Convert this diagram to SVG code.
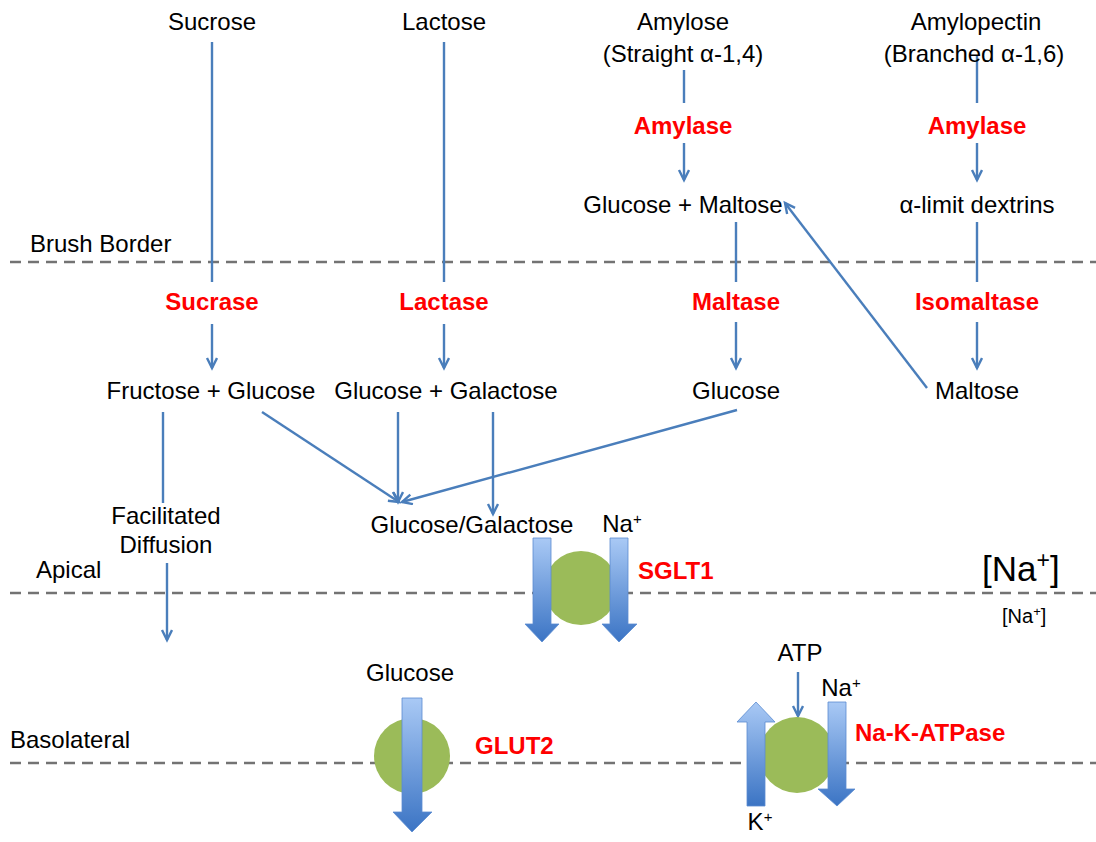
<svg xmlns="http://www.w3.org/2000/svg" width="1096" height="842" viewBox="0 0 1096 842">
  <style>
    text { font-family: "Liberation Sans", Arial, sans-serif; font-size: 24px; fill: #000; }
    .c { text-anchor: middle; }
    .enz { fill: #ff0000; font-weight: bold; }
    .big { font-size: 35px; }
    .small { font-size: 20px; }
    .mem { fill: none; stroke: #737373; stroke-width: 2.6; stroke-dasharray: 11 7; }
    .con { fill: none; stroke: #4a7ebb; stroke-width: 2.4; }
    .arr { marker-end: url(#ah); }
    .blk { fill: url(#bg); stroke: #5b8bd0; stroke-width: 0.8; }
    .prot { fill: #9bbb59; }
  </style>
  <defs>
    <marker id="ah" markerUnits="userSpaceOnUse" markerWidth="14" markerHeight="14" refX="11" refY="6" orient="auto">
      <path d="M1,1 L11,6 L1,11" fill="none" stroke="#4a7ebb" stroke-width="2.4"/>
    </marker>
    <linearGradient id="bg" x1="0" y1="0" x2="0" y2="1">
      <stop offset="0" stop-color="#a9c9f5"/>
      <stop offset="1" stop-color="#3b74c4"/>
    </linearGradient>
  </defs>

  <g id="membranes">
    <line class="mem" x1="10" y1="262" x2="1096" y2="262"/>
    <line class="mem" x1="10" y1="593" x2="1096" y2="593"/>
    <line class="mem" x1="10" y1="763" x2="1096" y2="763"/>
    <text x="30" y="252">Brush Border</text>
    <text x="36" y="578">Apical</text>
    <text x="10" y="748">Basolateral</text>
  </g>

  <g id="connectors">
    <line class="con" x1="212" y1="42" x2="212" y2="282"/>
    <line class="con arr" x1="212" y1="324" x2="212" y2="368"/>
    <line class="con" x1="444" y1="42" x2="444" y2="282"/>
    <line class="con arr" x1="444" y1="324" x2="444" y2="368"/>
    <line class="con" x1="684" y1="70" x2="684" y2="103"/>
    <line class="con arr" x1="684" y1="143" x2="684" y2="180"/>
    <line class="con" x1="977" y1="55" x2="977" y2="103"/>
    <line class="con arr" x1="977" y1="143" x2="977" y2="180"/>
    <line class="con" x1="736" y1="222" x2="736" y2="282"/>
    <line class="con arr" x1="736" y1="322" x2="736" y2="368"/>
    <line class="con" x1="977" y1="222" x2="977" y2="282"/>
    <line class="con arr" x1="977" y1="322" x2="977" y2="368"/>
    <line class="con arr" x1="927" y1="388" x2="785" y2="203"/>
    <line class="con" x1="163" y1="412" x2="163" y2="503"/>
    <line class="con arr" x1="167" y1="563" x2="167" y2="640"/>
    <line class="con arr" x1="262" y1="412" x2="399" y2="502"/>
    <line class="con arr" x1="398" y1="412" x2="398" y2="502"/>
    <line class="con arr" x1="493" y1="412" x2="493" y2="514"/>
    <line class="con arr" x1="737" y1="410" x2="402" y2="502"/>
    <line class="con arr" x1="798" y1="672" x2="798" y2="716"/>
  </g>

  <g id="sucrose"><text class="c" x="212" y="30">Sucrose</text></g>
  <g id="lactose"><text class="c" x="444" y="30">Lactose</text></g>
  <g id="amylose">
    <text class="c" x="683" y="30">Amylose</text>
    <text class="c" x="683" y="62">(Straight α-1,4)</text>
  </g>
  <g id="amylopectin">
    <text class="c" x="976" y="30">Amylopectin</text>
    <text class="c" x="974" y="62">(Branched α-1,6)</text>
  </g>
  <g id="amylase1"><text class="c enz" x="683" y="134">Amylase</text></g>
  <g id="amylase2"><text class="c enz" x="977" y="134">Amylase</text></g>
  <g id="glucose-maltose"><text class="c" x="683" y="213">Glucose + Maltose</text></g>
  <g id="alpha-limit"><text class="c" x="977" y="213">α-limit dextrins</text></g>
  <g id="sucrase"><text class="c enz" x="212" y="310">Sucrase</text></g>
  <g id="lactase"><text class="c enz" x="444" y="310">Lactase</text></g>
  <g id="maltase"><text class="c enz" x="736" y="310">Maltase</text></g>
  <g id="isomaltase"><text class="c enz" x="977" y="310">Isomaltase</text></g>
  <g id="fructose-glucose"><text class="c" x="211" y="399">Fructose + Glucose</text></g>
  <g id="glucose-galactose"><text class="c" x="446" y="399">Glucose + Galactose</text></g>
  <g id="glucose"><text class="c" x="736" y="399">Glucose</text></g>
  <g id="maltose"><text class="c" x="977" y="399">Maltose</text></g>
  <g id="facilitated">
    <text class="c" x="166" y="524">Facilitated</text>
    <text class="c" x="166" y="553">Diffusion</text>
  </g>
  <g id="glu-gal"><text class="c" x="472" y="533">Glucose/Galactose</text></g>

  <g id="sglt1">
    <circle class="prot" cx="581" cy="588" r="37"/>
    <path class="blk" d="M533,538 H551 V624 H559 L542,642 L525,624 H533 Z"/>
    <path class="blk" d="M610,538 H628 V624 H637 L619,642 L602,624 H610 Z"/>
    <text class="c" x="622" y="532">Na<tspan font-size="15" baseline-shift="super">+</tspan></text>
    <text class="enz" x="638" y="579">SGLT1</text>
  </g>

  <g id="na-conc">
    <text class="big" x="982" y="581">[Na<tspan font-size="23" baseline-shift="super">+</tspan>]</text>
    <text class="small" x="1002" y="623">[Na<tspan font-size="13" baseline-shift="super">+</tspan>]</text>
  </g>

  <g id="glut2">
    <text class="c" x="410" y="681">Glucose</text>
    <circle class="prot" cx="412" cy="756" r="38"/>
    <path class="blk" d="M402,698 H422 V812 H432 L412,832 L393,812 H402 Z"/>
    <text class="enz" x="475" y="754">GLUT2</text>
  </g>

  <g id="na-k-atpase">
    <text class="c" x="800" y="661">ATP</text>
    <circle class="prot" cx="797" cy="755" r="38"/>
    <path class="blk" d="M747,806 H765 V722 H775 L756,702 L737,722 H747 Z"/>
    <path class="blk" d="M828,702 H846 V789 H855 L837,806 L818,789 H828 Z"/>
    <text class="c" x="841" y="696">Na<tspan font-size="15" baseline-shift="super">+</tspan></text>
    <text class="c" x="760" y="830">K<tspan font-size="15" baseline-shift="super">+</tspan></text>
    <text class="enz" x="855" y="741">Na-K-ATPase</text>
  </g>
</svg>
